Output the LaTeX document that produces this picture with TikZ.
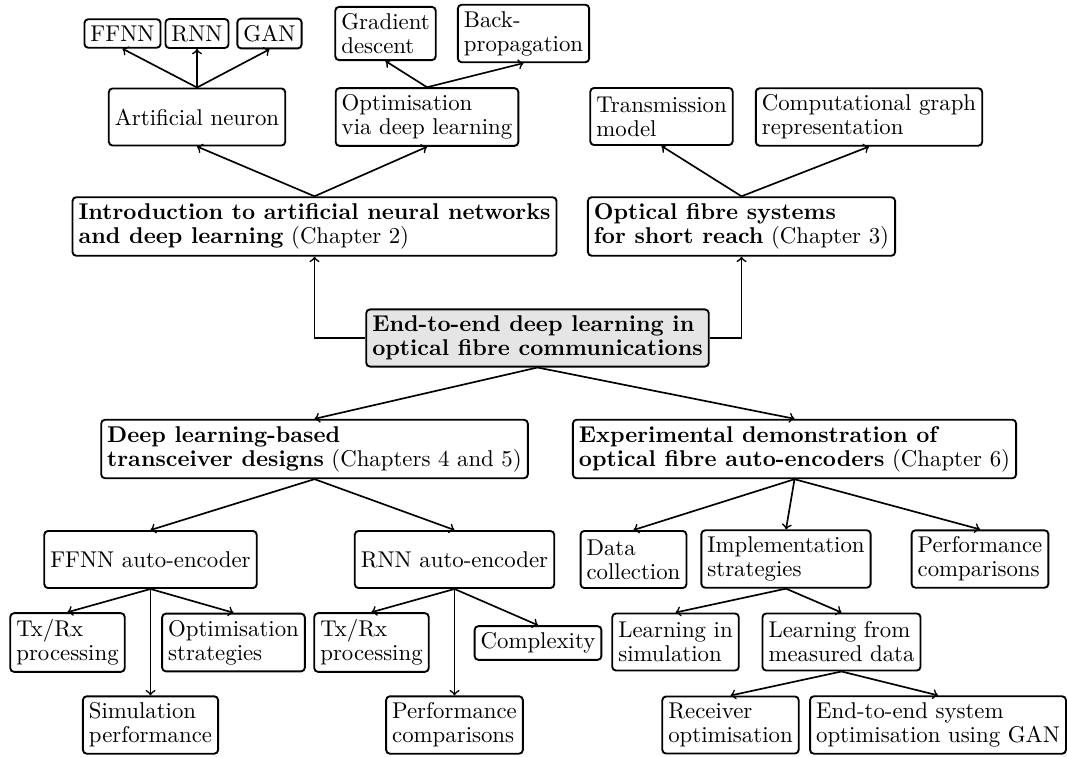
\documentclass[tikz,border=0pt]{standalone}
\tikzset{
  box/.style={draw, line width=0.9pt, rounded corners=1.8pt, align=left,
    inner xsep=2.9pt, inner ysep=3.1pt,
    font=\fontsize{10.95}{11.5}\selectfont, minimum height=27.4pt},
  smallbox/.style={box, minimum height=0pt},
  rootbox/.style={box, fill=black!10},
  link/.style={->, line width=0.8pt},
}
\begin{document}
\begin{tikzpicture}[x=0.48pt, y=-0.48pt]
\useasboundingbox (0,0) rectangle (1067,756);

% root
\node[rootbox] (root) at (537.5,338) {\textbf{End-to-end deep learning in}\\\textbf{optical fibre communications}};

% background chapters
\node[box] (intro) at (314.5,226.5) {\textbf{Introduction to artificial neural networks}\\\textbf{and deep learning} (Chapter 2)};
\node[box] (optical) at (741.5,226.5) {\textbf{Optical fibre systems}\\\textbf{for short reach} (Chapter 3)};

\node[box] (neuron) at (197,117) {Artificial neuron};
\node[box] (optim) at (427,117) {Optimisation\\via deep learning};
\node[smallbox] (ffnn) at (122.5,33.5) {FFNN};
\node[smallbox] (rnn) at (197,33.5) {RNN};
\node[smallbox] (gan) at (269.5,33.5) {GAN};
\node[smallbox] (grad) at (385.5,33.5) {Gradient\\descent};
\node[box] (backprop) at (523.5,33.5) {Back-\\propagation};

\node[box] (trans) at (661.5,116.5) {Transmission\\model};
\node[box] (graph) at (869,117) {Computational graph\\representation};

% contributions
\node[box] (design) at (314.5,449) {\textbf{Deep learning-based}\\\textbf{transceiver designs} (Chapters 4 and 5)};
\node[box] (exper) at (794.5,449) {\textbf{Experimental demonstration of}\\\textbf{optical fibre auto-encoders} (Chapter 6)};

\node[box] (ffnnae) at (150.5,559.5) {FFNN auto-encoder};
\node[box] (rnnae) at (454.5,559.5) {RNN auto-encoder};

\node[box] (txrxA) at (67.5,642.5) {Tx/Rx\\processing};
\node[box] (strat) at (233.5,642.5) {Optimisation\\strategies};
\node[box] (simperf) at (150.5,725) {Simulation\\performance};

\node[box] (txrxB) at (371.5,642.5) {Tx/Rx\\processing};
\node[smallbox] (cplx) at (538,643) {Complexity};
\node[box] (perfA) at (454.5,725) {Performance\\comparisons};

\node[box] (data) at (633.5,559.5) {Data\\collection};
\node[box] (impl) at (786,559) {Implementation\\strategies};
\node[box] (perfB) at (980,559) {Performance\\comparisons};

\node[box] (lsim) at (675.5,642) {Learning in\\simulation};
\node[box] (lmeas) at (841.5,642) {Learning from\\measured data};

\node[box] (recv) at (730.5,725) {Receiver\\optimisation};
\node[box] (e2e) at (938,725) {End-to-end system\\optimisation using GAN};

% connectors
\draw[link] (root.west) -| (intro.south);
\draw[link] (root.east) -| (optical.south);
\draw[link] (intro.north) -- (neuron.south);
\draw[link] (intro.north) -- (optim.south);
\draw[link] (neuron.north) -- (ffnn.south);
\draw[link] (neuron.north) -- (rnn.south);
\draw[link] (neuron.north) -- (gan.south);
\draw[link] (optim.north) -- (grad.south);
\draw[link] (optim.north) -- (backprop.south);
\draw[link] (optical.north) -- (trans.south);
\draw[link] (optical.north) -- (graph.south);

\draw[link] (root.south) -- (design.north);
\draw[link] (root.south) -- (exper.north);
\draw[link] (design.south) -- (ffnnae.north);
\draw[link] (design.south) -- (rnnae.north);
\draw[link] (ffnnae.south) -- (txrxA.north);
\draw[link] (ffnnae.south) -- (strat.north);
\draw[link] (ffnnae.south) -- (simperf.north);
\draw[link] (rnnae.south) -- (txrxB.north);
\draw[link] (rnnae.south) -- (cplx.north);
\draw[link] (rnnae.south) -- (perfA.north);
\draw[link] (exper.south) -- (data.north);
\draw[link] (exper.south) -- (impl.north);
\draw[link] (exper.south) -- (perfB.north);
\draw[link] (impl.south) -- (lsim.north);
\draw[link] (impl.south) -- (lmeas.north);
\draw[link] (lmeas.south) -- (recv.north);
\draw[link] (lmeas.south) -- (e2e.north);
\end{tikzpicture}
\end{document}
